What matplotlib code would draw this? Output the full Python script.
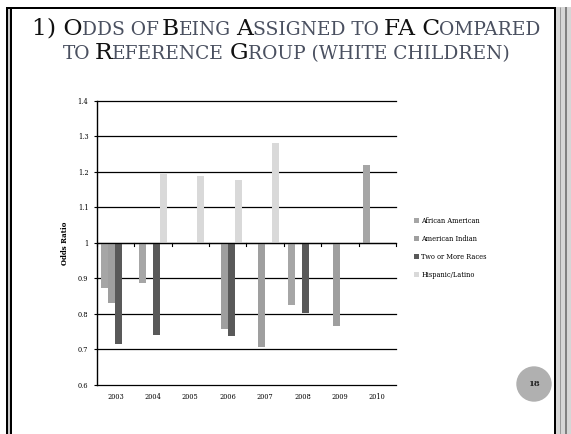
import numpy as np
import matplotlib.pyplot as plt
from matplotlib.patches import Rectangle, Ellipse
from matplotlib.lines import Line2D

# chart data (None = no bar)
years = ['2003', '2004', '2005', '2006', '2007', '2008', '2009', '2010']
series = ['African American', 'American Indian', 'Two or More Races', 'Hispanic/Latino']
african_american = [0.873, 0.886, None, None, None, 0.826, None, 1.218]
american_indian = [0.830, None, None, 0.757, 0.706, None, 0.767, None]
two_or_more = [0.714, 0.741, None, 0.737, None, 0.804, None, None]
hispanic = [None, 1.193, 1.188, 1.178, 1.280, None, None, None]
colors = ['#a6a6a6', '#9f9f9f', '#595959', '#d9d9d9']
yticks = [0.6, 0.7, 0.8, 0.9, 1.0, 1.1, 1.2, 1.3, 1.4]

W, H = 571, 434
fig = plt.figure(figsize=(W / 100, H / 100), dpi=100)
fig.patch.set_facecolor('white')


def fx(x):
    return x / W


def fy(y):
    return 1 - y / H


# slide border
def vline(x, y0, y1, c, lw):
    fig.add_artist(Line2D([fx(x), fx(x)], [fy(y0), fy(y1)], color=c, lw=lw * 0.72,
                          transform=fig.transFigure, solid_capstyle='butt'))


fig.add_artist(Rectangle((fx(556), 0), fx(W - 556), fy(7), color='#d6d6d6',
                         transform=fig.transFigure, lw=0))
fig.add_artist(Line2D([fx(6), fx(556)], [fy(8), fy(8)], color='black', lw=2 * 0.72,
                      transform=fig.transFigure, solid_capstyle='butt'))
vline(7, 7, H, 'black', 2)
vline(9, 9, H, '#c8c8c8', 2)
vline(11, 9, H, 'black', 2)
vline(555, 7, H, 'black', 2)
vline(559.5, 7, H, '#9a9a9a', 1)
vline(566, 7, H, '#808080', 2)

# title in small caps
title_font = 'DejaVu Serif'
big_fs = 16.8
small_fs = big_fs * 0.8
line1 = [('1) O', 1), ('DDS OF ', 0), ('B', 1), ('EING ', 0), ('A', 1),
         ('SSIGNED TO ', 0), ('FA C', 1), ('OMPARED', 0)]
line2 = [('TO ', 0), ('R', 1), ('EFERENCE ', 0), ('G', 1), ('ROUP (WHITE CHILDREN)', 0)]

renderer = fig.canvas.get_renderer()


def text_w(s, fs):
    t = fig.text(0, 0, s, fontsize=fs, family=title_font)
    w = t.get_window_extent(renderer).width
    t.remove()
    return w


def title_line(parts, ybase, cx):
    texts = []
    x = 0
    for s, big in parts:
        fs = big_fs if big else small_fs
        word = s.rstrip()
        t = fig.text(0, fy(ybase), word, fontsize=fs, family=title_font,
                     color='#111111' if big else '#4a5060', va='baseline', ha='left')
        w = text_w(word + '.', fs) - text_w('.', fs)
        if s.endswith(' '):
            w += text_w(' .', fs) - text_w('.', fs)
        texts.append((t, x))
        x += w
    start = cx - x / 2
    for t, off in texts:
        t.set_x(fx(start + off))


title_line(line1, 35, 286)
title_line(line2, 59, 286)

# chart
ax = fig.add_axes([fx(96.7), fy(385), fx(396) - fx(96.7), fy(100.7) - fy(385)])
xs = np.arange(len(years))
bw = 0.187
handles = []
for k, (vals, c) in enumerate(zip([african_american, american_indian, two_or_more, hispanic], colors)):
    pos = [xs[i] + (k - 1.5) * bw for i in range(len(years)) if vals[i] is not None]
    hts = [vals[i] - 1 for i in range(len(years)) if vals[i] is not None]
    b = ax.bar(pos, hts, bottom=1, width=bw, color=c, zorder=3, label=series[k])
    handles.append(b)

ax.set_xlim(-0.5, len(years) - 0.5)
ax.set_ylim(0.6, 1.4)
ax.set_yticks(yticks)
ax.set_yticklabels(['{:g}'.format(v) for v in yticks], family='DejaVu Serif', fontsize=4.8)
for v in yticks:
    ax.axhline(v, color='black', lw=0.9, zorder=1, clip_on=False)
ax.axhline(1.0, color='black', lw=0.9, zorder=4)
for b in np.arange(-0.5, len(years) + 0.5, 1):
    ax.plot([b, b], [1.0, 0.99], color='black', lw=0.8, zorder=4, clip_on=False)
for s in ['top', 'right', 'bottom']:
    ax.spines[s].set_visible(False)
ax.spines['left'].set_linewidth(1.0)
ax.tick_params(axis='y', length=2, width=0.8, pad=4)
ax.tick_params(axis='x', length=0, pad=6)
ax.set_xticks(xs)
ax.set_xticklabels(years, family='DejaVu Serif', fontsize=4.8)
ax.set_ylabel('Odds Ratio', family='DejaVu Serif', fontsize=5, fontweight='bold', labelpad=6)

fig.legend(handles=handles, loc='center left', bbox_to_anchor=(fx(408), fy(248)),
           frameon=False, prop={'family': 'DejaVu Serif', 'size': 4.8},
           handlelength=0.8, handleheight=0.8, handletextpad=0.3, labelspacing=1.5)

# page number
fig.add_artist(Ellipse((fx(534), fy(384)), 34 / W, 34 / H, color='#b0b0b0',
                       transform=fig.transFigure))
fig.text(fx(534), fy(384), '18', ha='center', va='center', fontsize=6,
         family='DejaVu Serif', fontweight='bold', color='#222222')

fig.savefig('out.png', dpi=100)
